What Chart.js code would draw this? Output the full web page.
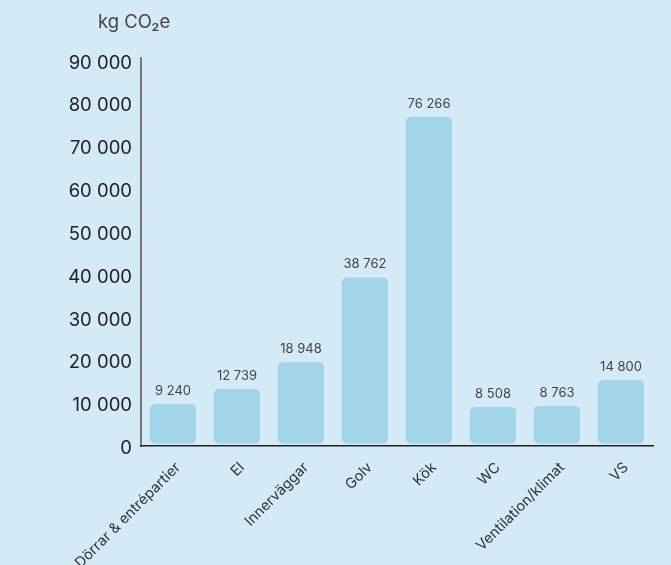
<!DOCTYPE html>
<html>
<head>
<meta charset="utf-8">
<script src="https://cdn.jsdelivr.net/npm/chart.js@4.4.1/dist/chart.umd.min.js"></script>
<style>
  html, body { margin: 0; padding: 0; background: #d4ebf7; }
  #wrap { width: 671px; height: 565px; }
</style>
</head>
<body>
<div id="wrap"><canvas id="chart" width="671" height="565"></canvas></div>
<script>
// Données
const categories = ['Dörrar & entrépartier', 'El', 'Innerväggar', 'Golv', 'Kök', 'WC', 'Ventilation/klimat', 'VS'];
const values = [9240, 12739, 18948, 38762, 76266, 8508, 8763, 14800];
const yTicks = [0, 10000, 20000, 30000, 40000, 50000, 60000, 70000, 80000, 90000];
const unitLabel = 'kg CO₂e';

const FONT = 'Inter, "Noto Sans", sans-serif';

// espace comme séparateur de milliers
function fmt(n) {
  return String(n).replace(/\B(?=(\d{3})+(?!\d))/g, ' ');
}

// étiquettes au-dessus des barres + unité en haut
const labelsPlugin = {
  id: 'labels',
  afterDatasetsDraw(chart) {
    const ctx = chart.ctx;
    const meta = chart.getDatasetMeta(0);
    ctx.save();
    ctx.font = '13px ' + FONT;
    ctx.fillStyle = '#444';
    ctx.textAlign = 'center';
    ctx.textBaseline = 'alphabetic';
    meta.data.forEach((bar, i) => {
      ctx.fillText(fmt(values[i]), bar.x, bar.y - 9);
    });
    ctx.font = '18.5px ' + FONT;
    ctx.fillStyle = '#444';
    ctx.textAlign = 'left';
    ctx.textBaseline = 'middle';
    ctx.fillText(unitLabel, chart.chartArea.left - 43, 22);
    ctx.restore();
  }
};

const chart = new Chart(document.getElementById('chart'), {
  type: 'bar',
  data: {
    labels: categories,
    datasets: [{
      data: values,
      backgroundColor: '#a2d4ea',
      borderWidth: 0,
      borderSkipped: false,
      borderRadius: 5,
      barPercentage: 0.72,
      categoryPercentage: 1
    }]
  },
  options: {
    responsive: false,
    animation: false,
    layout: { padding: { left: 0, right: 18, top: 58, bottom: 0 } },
    plugins: {
      legend: { display: false },
      tooltip: { enabled: false }
    },
    scales: {
      y: {
        min: -585, // petit écart entre les barres et l'axe x
        max: yTicks[yTicks.length - 1],
        afterBuildTicks: s => { s.ticks = yTicks.map(v => ({ value: v })); },
        grid: { display: false, drawTicks: false },
        border: { display: true, color: '#777', width: 2 },
        ticks: {
          padding: 9,
          labelOffset: 5,
          color: '#222',
          font: { family: FONT, size: 18.5 },
          callback: v => fmt(v)
        },
        afterFit: s => { s.width = 141; }
      },
      x: {
        grid: { display: false, drawTicks: false },
        border: { display: true, color: '#222', width: 1.5 },
        ticks: {
          minRotation: 45,
          maxRotation: 45,
          padding: 13,
          labelOffset: 5,
          color: '#333',
          font: { family: FONT, size: 14.5 }
        },
        afterFit: s => { s.height = 119; }
      }
    }
  },
  plugins: [labelsPlugin]
});
</script>
</body>
</html>
